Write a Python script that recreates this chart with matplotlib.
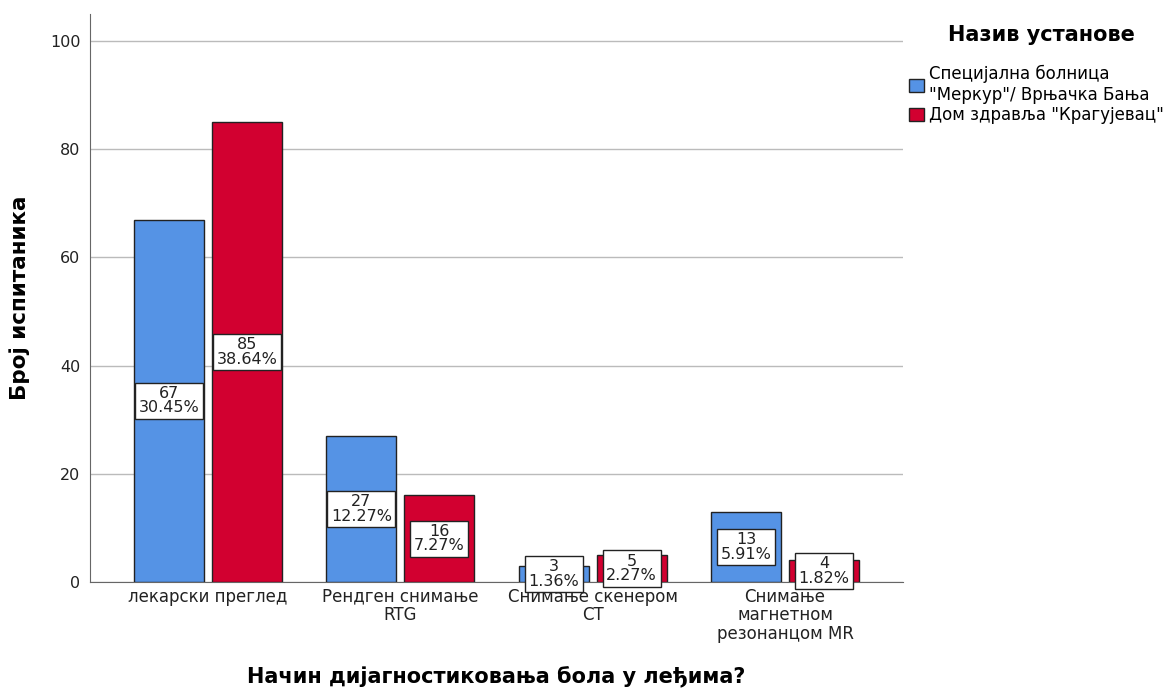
import matplotlib
matplotlib.use("Agg")
import matplotlib.pyplot as plt
import numpy as np

categories = ["лекарски преглед", "Рендген снимање\nRTG", "Снимање скенером\nCT",
              "Снимање\nмагнетном\nрезонанцом MR"]
series_names = ["Специјална болница\n\"Меркур\"/ Врњачка Бања", "Дом здравља \"Крагујевац\""]
merkur_counts = [67, 27, 3, 13]
merkur_pct = ["30.45%", "12.27%", "1.36%", "5.91%"]
kg_counts = [85, 16, 5, 4]
kg_pct = ["38.64%", "7.27%", "2.27%", "1.82%"]

colors = ["#5593E5", "#D20030"]

plt.rcParams['font.family'] = ['DejaVu Sans']

fig = plt.figure(figsize=(11.75, 6.9), dpi=100)
ax = fig.add_axes([90 / 1175, 1 - 582 / 690, 813 / 1175, 568 / 690])

x = np.arange(len(categories))
w = 0.364
off = 0.2026
for vals, pcts, col, sgn, name in [(merkur_counts, merkur_pct, colors[0], -1, series_names[0]),
                                   (kg_counts, kg_pct, colors[1], 1, series_names[1])]:
    ax.bar(x + sgn * off, vals, width=w, color=col, edgecolor="#222222", linewidth=1.0,
           label=name, zorder=3)
    for xi, v, p in zip(x, vals, pcts):
        ax.text(xi + sgn * off, v / 2, f"{v}\n{p}", ha="center", va="center", fontsize=11.5,
                color="#222222", linespacing=0.95, zorder=5,
                bbox=dict(boxstyle="square,pad=0.22", facecolor="white", edgecolor="#222222",
                          linewidth=1.0))

ax.set_xlim(-0.613, 3.613)
ax.set_ylim(0, 105)
ax.set_yticks([0, 20, 40, 60, 80, 100])
ax.set_xticks(x)
ax.set_xticklabels(categories, fontsize=12, linespacing=1.05)
ax.tick_params(axis="both", length=0, colors="#222222")
ax.tick_params(axis="y", pad=7, labelsize=11.5)
ax.tick_params(axis="x", pad=4)
ax.grid(axis="y", color="#BBBBBB", linewidth=1.0, zorder=0)
for s in ["top", "right"]:
    ax.spines[s].set_visible(False)
ax.spines["left"].set_color("#666666")
ax.spines["bottom"].set_color("#666666")

ax.set_ylabel("Број испитаника", fontsize=15.5, fontweight="bold", labelpad=14)
fig.text(496 / 1175, 1 - 677 / 690, "Начин дијагностиковања бола у леђима?", ha="center",
         va="center", fontsize=15, fontweight="bold")

leg = fig.legend(loc="upper left", bbox_to_anchor=(902 / 1175, 1 - 58 / 690), frameon=False,
                 fontsize=12, handlelength=0.9, handleheight=0.9, handletextpad=0.3,
                 labelspacing=0.15, borderaxespad=0)
fig.text(1041 / 1175, 1 - 35 / 690, "Назив установе", ha="center", va="center",
         fontsize=15, fontweight="bold")

fig.savefig("out.png", dpi=100, facecolor="white")
